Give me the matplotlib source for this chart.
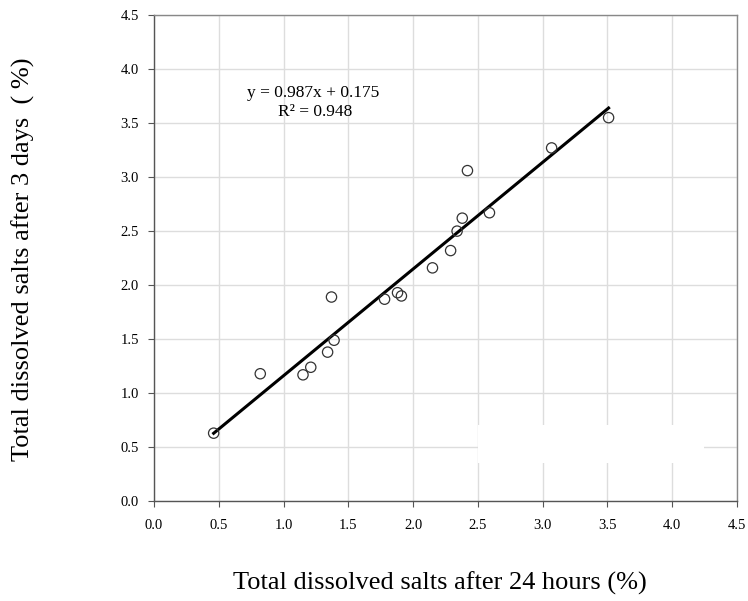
import numpy as np
import matplotlib
matplotlib.use("Agg")
import matplotlib.pyplot as plt
from matplotlib.patches import Rectangle

tds_24h = [0.46, 0.82, 1.15, 1.21, 1.34, 1.37, 1.39, 1.78, 1.88, 1.91,
           2.15, 2.29, 2.34, 2.38, 2.42, 2.59, 3.07, 3.51]
tds_3d = [0.63, 1.18, 1.17, 1.24, 1.38, 1.89, 1.49, 1.87, 1.93, 1.90,
          2.16, 2.32, 2.50, 2.62, 3.06, 2.67, 3.27, 3.55]
slope, intercept = 0.987, 0.175
r2 = 0.948
ticks = [0.0, 0.5, 1.0, 1.5, 2.0, 2.5, 3.0, 3.5, 4.0, 4.5]

plt.rcParams['font.family'] = ['Liberation Serif', 'DejaVu Serif']

fig = plt.figure(figsize=(7.48, 6.01), dpi=100)
ax = fig.add_axes([0.206, 0.166, 0.779, 0.809])

x = np.array(tds_24h)
y = np.array(tds_3d)
xl = np.array([x.min(), x.max()])
ax.plot(xl, slope * xl + intercept, color='black', lw=2.2, zorder=3)
ax.scatter(x, y, s=55, facecolors='none', edgecolors='#333333', linewidths=0.9, zorder=4)

ax.text(1.23, 3.78, 'y = 0.987x + 0.175', ha='center', va='center', fontsize=12.5)
ax.text(1.24, 3.60, 'R² = 0.948', ha='center', va='center', fontsize=12.5)

ax.set_xlim(0, 4.5)
ax.set_ylim(0, 4.5)
ax.set_xticks(ticks)
ax.set_yticks(ticks)
ax.set_xticklabels(['%.1f' % t for t in ticks], fontsize=10.5)
ax.set_yticklabels(['%.1f' % t for t in ticks], fontsize=10.5)
ax.tick_params(direction='out', length=4, color='#555555', pad=9)
ax.tick_params(axis='y', pad=7)
ax.grid(True, color='#dddddd', lw=1.0)
ax.set_axisbelow(True)
for s in ax.spines.values():
    s.set_color('#888888')
    s.set_linewidth(1.0)
ax.spines['left'].set_color('#555555')
ax.spines['bottom'].set_color('#555555')

# white patch covering part of grid (as in the source image)
ax.add_patch(Rectangle((2.5, 0.35), 1.75, 0.36, facecolor='white', edgecolor='none', zorder=2))

fig.text(0.588, 0.03, 'Total dissolved salts after 24 hours (%)', ha='center', va='center', fontsize=19)
fig.text(0.031, 0.569, 'Total dissolved salts after 3 days  ( %)', ha='center', va='center',
         rotation=90, fontsize=19)

fig.savefig('out.png', dpi=100)
